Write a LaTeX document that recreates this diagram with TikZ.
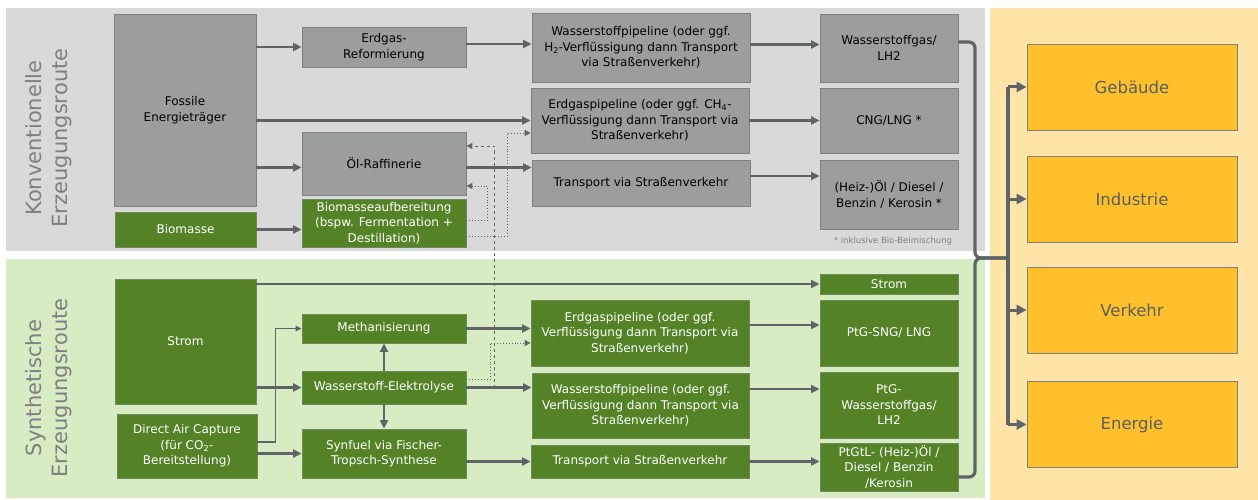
\documentclass[tikz,border=0pt]{standalone}
\usepackage{fontspec}
\setmainfont{DejaVu Sans}
\usetikzlibrary{calc,positioning,arrows.meta}
\definecolor{arrowgrey}{HTML}{5F6466}
\definecolor{bandgrey}{HTML}{D9D9D9}
\definecolor{bandgreen}{HTML}{D8ECC4}
\definecolor{bandorange}{HTML}{FFE4A8}
\definecolor{boxgrey}{HTML}{9C9E9E}
\definecolor{edgegrey}{HTML}{7F8080}
\definecolor{boxgreen}{HTML}{548226}
\definecolor{edgegreen}{HTML}{6E8A5C}
\definecolor{boxorange}{HTML}{FFC02B}
\definecolor{textgrey}{HTML}{5A5F62}
\definecolor{labelgrey}{HTML}{7F7F7F}
\tikzstyle{line} = [draw=arrowgrey, line width=2.6pt, -{Triangle[length=8.5pt,width=8pt]}]
\tikzstyle{thinline} = [draw=arrowgrey, line width=1.3pt, -{Triangle[length=6pt,width=5.5pt]}]
\tikzstyle{dashline} = [draw=arrowgrey, line width=0.9pt, dashed, -{Triangle[length=6pt,width=6pt]}]
\tikzstyle{dotline} = [draw=arrowgrey, line width=0.9pt, dotted, -{Triangle[length=6pt,width=6pt]}]
\tikzstyle{bracket} = [draw=arrowgrey, line width=3.2pt, rounded corners=6pt]
\tikzstyle{bigline} = [draw=arrowgrey, line width=3pt, -{Triangle[length=10pt,width=10pt]}]

\begin{document}
\begin{tikzpicture}[
	x=1pt, y=-1pt,
	font=\fontsize{12}{15.5}\selectfont,
	greybox/.style={
		rectangle,
		fill=boxgrey,
		draw=edgegrey,
		line width=0.8pt,
		align=center,
		inner sep=1pt,
	},
	greenbox/.style={
		greybox,
		fill=boxgreen,
		draw=edgegreen,
		text=white,
	},
	sectorbox/.style={
		greybox,
		fill=boxorange,
		text=textgrey,
		minimum width=210,
		minimum height=86,
		font=\fontsize{16.5}{20}\selectfont,
	},
	routelabel/.style={
		rotate=90,
		align=center,
		text=labelgrey,
		font=\fontsize{21}{26}\selectfont,
	}
]
	\useasboundingbox (0,0) rectangle (1258,500);
	% bands
	\fill [bandgrey] (6,8) rectangle (985,251);
	\fill [bandgreen] (6,259) rectangle (985,498);
	\fill [bandorange] (990,8) rectangle (1258,500);

	\node (convlabel) [routelabel] at (49,138) {Konventionelle\\Erzeugungsroute};
	\node (synlabel) [routelabel] at (49,388) {Synthetische\\Erzeugungsroute};

	% konventionell
	\node (fossil) [greybox,minimum width=142,minimum height=192] at (185,110)
		{Fossile\\Energieträger};
	\node (biomass) [greenbox,minimum width=141,minimum height=35] at (185.5,229.5)
		{Biomasse};
	\node (reform) [greybox,minimum width=164,minimum height=40] at (384,47)
		{Erdgas-\\Reformierung};
	\node (refinery) [greybox,minimum width=164,minimum height=63] at (384,163.5)
		{Öl-Raffinerie};
	\node (bioproc) [greenbox,minimum width=164,minimum height=48] at (384,223)
		{Biomasseaufbereitung\\(bspw. Fermentation +\\Destillation)};
	\node (h2pipe) [greybox,minimum width=218,minimum height=69] at (641,47.5)
		{Wasserstoffpipeline (oder ggf.\\H\textsubscript{2}-Verflüssigung dann Transport\\via Straßenverkehr)};
	\node (gaspipe) [greybox,minimum width=218,minimum height=65] at (640,120.5)
		{Erdgaspipeline (oder ggf. CH\textsubscript{4}-\\Verflüssigung dann Transport via\\Straßenverkehr)};
	\node (truck) [greybox,minimum width=218,minimum height=46] at (641,183)
		{Transport via Straßenverkehr};
	\node (h2gas) [greybox,minimum width=138,minimum height=68] at (889,48)
		{Wasserstoffgas/\\LH2};
	\node (cng) [greybox,minimum width=138,minimum height=65] at (889,120.5)
		{CNG/LNG *};
	\node (oil) [greybox,minimum width=138,minimum height=69] at (889,194.5)
		{(Heiz-)Öl / Diesel /\\Benzin / Kerosin *};
	\node (note) [text=labelgrey,font=\fontsize{8.5}{10}\selectfont] at (893,241)
		{* inklusive Bio-Beimischung};

	% synthetisch
	\node (strom) [greenbox,minimum width=141,minimum height=125] at (185.5,341.5)
		{Strom};
	\node (dac) [greenbox,minimum width=140,minimum height=64] at (187,446)
		{Direct Air Capture\\(für CO\textsubscript{2}-\\Bereitstellung)};
	\node (methan) [greenbox,minimum width=164,minimum height=29] at (384,328.5)
		{Methanisierung};
	\node (elec) [greenbox,minimum width=164,minimum height=33] at (384,387.5)
		{Wasserstoff-Elektrolyse};
	\node (synfuel) [greenbox,minimum width=164,minimum height=49] at (384,453.5)
		{Synfuel via Fischer-\\Tropsch-Synthese};
	\node (gaspipe2) [greenbox,minimum width=218,minimum height=66] at (640,333)
		{Erdgaspipeline (oder ggf.\\Verflüssigung dann Transport via\\Straßenverkehr)};
	\node (h2pipe2) [greenbox,minimum width=217,minimum height=65] at (640.5,405.5)
		{Wasserstoffpipeline (oder ggf.\\Verflüssigung dann Transport via\\Straßenverkehr)};
	\node (truck2) [greenbox,minimum width=218,minimum height=33] at (640,461.5)
		{Transport via Straßenverkehr};
	\node (strom2) [greenbox,minimum width=138,minimum height=20] at (889,284)
		{Strom};
	\node (sng) [greenbox,minimum width=138,minimum height=66] at (889,333)
		{PtG-SNG/ LNG};
	\node (h2gas2) [greenbox,minimum width=138,minimum height=66] at (889,405)
		{PtG-\\Wasserstoffgas/\\LH2};
	\node (ptgtl) [greenbox,minimum width=138,minimum height=48] at (889,467)
		{PtGtL- (Heiz-)Öl /\\Diesel / Benzin\\/Kerosin};

	% sektoren
	\node (gebaeude) [sectorbox] at (1132,87) {Gebäude};
	\node (industrie) [sectorbox] at (1132,199) {Industrie};
	\node (verkehr) [sectorbox] at (1132,310) {Verkehr};
	\node (energie) [sectorbox] at (1132,424.5) {Energie};

	\coordinate (elecjoint) at (494,387.5);
	\coordinate (brace) at (975,258);
	\coordinate (spine) at (1008,258);

	% pfeile konventionell
	\draw [line] (fossil.east |- reform.west) -- (reform.west);
	\draw [line] ([yshift=3pt]reform.east) -- ([yshift=3pt]reform.east -| h2pipe.west);
	\draw [line] (fossil.east |- gaspipe.west) -- (gaspipe.west);
	\draw [line] ([yshift=-4pt]refinery.west -| fossil.east) -- ([yshift=-4pt]refinery.west);
	\draw [line] ([yshift=-4pt]refinery.east) -- ([yshift=-4pt]refinery.east -| truck.west);
	\draw [line] (biomass.east) -- (biomass.east -| bioproc.west);
	\draw [line] ([yshift=3pt]h2pipe.east) -- ([yshift=3pt]h2pipe.east -| h2gas.west);
	\draw [line] (gaspipe.east) -- (gaspipe.east -| cng.west);
	\draw [line] ([yshift=7pt]truck.east) -- ([yshift=7pt]truck.east -| oil.west);
	\draw [dashline] (elecjoint) |- ([yshift=17.5pt]refinery.east);
	\draw [dotline] ([yshift=3pt]bioproc.east) -- ++(21,0) |- ([yshift=-22.5pt]refinery.east);
	\draw [dotline] ([yshift=-13pt]bioproc.east) -- ++(41,0) |- ([yshift=-12.5pt]gaspipe.west);

	% pfeile synthetisch
	\draw [line] (strom.east |- strom2.west) -- (strom2.west);
	\draw [line] (strom.east |- elec.west) -- (elec.west);
	\draw [thinline] ([yshift=4pt]dac.east) -- ++(18,0) |- (methan.west);
	\draw [line] (dac.east |- synfuel.west) -- (synfuel.west);
	\draw [line] (elec.north) -- (methan.south);
	\draw [line] (elec.south) -- (synfuel.north);
	\draw [line] (methan.east) -- (methan.east -| gaspipe2.west);
	\draw [line] (elec.east) -- (elec.east -| h2pipe2.west);
	\draw [line] (synfuel.east |- truck2.west) -- (truck2.west);
	\draw [dotline] ([yshift=8.5pt]elec.east) -- ++(24,0) |- ([yshift=-10pt]gaspipe2.west);
	\draw [line] ([yshift=8pt]gaspipe2.east) -- ([yshift=8pt]gaspipe2.east -| sng.west);
	\draw [line] ([yshift=16.5pt]h2pipe2.east) -- ([yshift=16.5pt]h2pipe2.east -| h2gas2.west);
	\draw [line] (truck2.east) -- (truck2.east -| ptgtl.west);

	% klammer zu den sektoren
	\draw [bracket] ([yshift=6pt]h2gas.east) -| (brace) -- (spine);
	\draw [bracket] ([yshift=-10pt]ptgtl.east) -| (brace) -- (spine);
	\draw [bracket] (gebaeude.west -| spine) -- (energie.west -| spine);
	\draw [bigline] (gebaeude.west -| spine) -- (gebaeude.west);
	\draw [bigline] (industrie.west -| spine) -- (industrie.west);
	\draw [bigline] (verkehr.west -| spine) -- (verkehr.west);
	\draw [bigline] (energie.west -| spine) -- (energie.west);

\end{tikzpicture}
\end{document}
